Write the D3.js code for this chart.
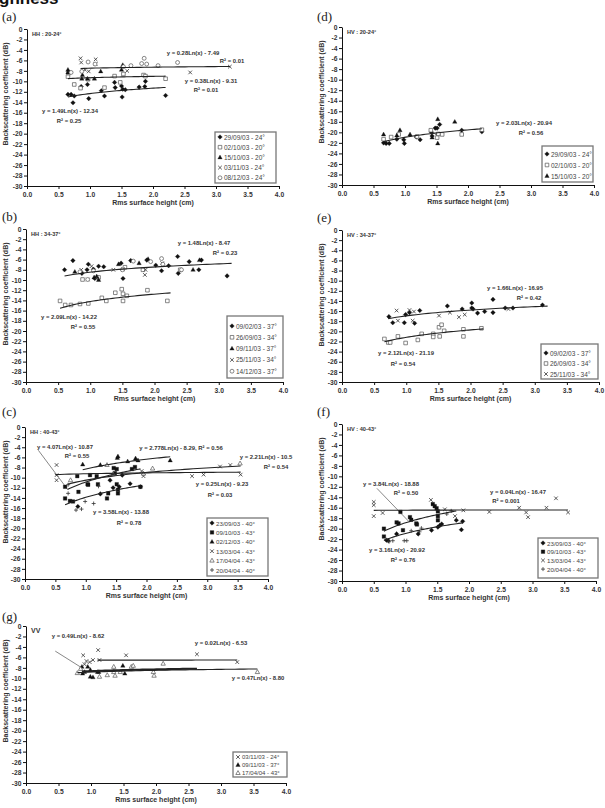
<!DOCTYPE html>
<html><head><meta charset="utf-8">
<script src="https://cdn.jsdelivr.net/npm/d3@7"></script>
<style>body{margin:0;background:#fff} svg{display:block}</style>
</head><body>
<svg id="chart" width="605" height="808"></svg>
<script>
// ---------------- DATA ----------------
const xTicks = [0.0,0.5,1.0,1.5,2.0,2.5,3.0,3.5,4.0];
const yTicks = [0,-2,-4,-6,-8,-10,-12,-14,-16,-18,-20,-22,-24,-26,-28,-30];

// (a) HH 20-24
const a_290903 = [[0.65,-12.5],[0.70,-12.5],[0.73,-14.1],[0.75,-12.8],[0.86,-11.0],[0.96,-10.6],[0.98,-13.3],[1.18,-11.8],[1.23,-12.8],[1.39,-10.2],[1.40,-11.2],[1.50,-10.9],[1.51,-13.0],[1.52,-11.5],[1.56,-11.6],[1.78,-11.1],[1.87,-11.0],[1.88,-10.0],[2.20,-12.7]];
const a_021003 = [[0.65,-9.1],[0.66,-8.4],[0.75,-10.6],[0.85,-11.3],[0.97,-9.6],[1.23,-11.2],[1.39,-9.0],[1.48,-10.2],[1.53,-8.6],[1.85,-8.8],[1.88,-9.0],[2.20,-9.5]];
const a_151003 = [[0.65,-7.8],[0.65,-8.3],[0.87,-9.5],[0.88,-8.8],[0.96,-9.5],[1.07,-9.5],[1.17,-8.1],[1.50,-7.8],[1.52,-6.9]];
const a_031103 = [[0.85,-5.6],[0.86,-6.4],[0.92,-7.8],[0.98,-8.1],[1.09,-5.8],[1.09,-6.7],[1.59,-8.0],[2.59,-8.3],[3.22,-7.2]];
const a_081203 = [[0.70,-8.3],[0.87,-8.1],[0.97,-6.3],[1.08,-6.7],[1.53,-7.2],[1.65,-7.0],[1.82,-6.6],[1.86,-5.6],[1.90,-6.7],[2.08,-7.0],[2.39,-6.4]];
const a_fits = [[1.49,-12.34,0.65,2.2],[0.38,-9.31,0.65,2.2],[0.28,-7.49,0.85,3.22]];

// (b) HH 34-37
const b_090203 = [[0.60,-8.0],[0.73,-6.2],[0.87,-8.7],[0.95,-8.0],[0.97,-6.9],[1.05,-7.9],[1.07,-9.7],[1.13,-7.3],[1.21,-7.4],[1.48,-6.7],[1.51,-9.7],[1.63,-6.2],[1.88,-6.1],[2.02,-7.1],[2.11,-8.2],[2.22,-7.2],[2.36,-5.4],[2.37,-8.7],[2.54,-6.4],[2.69,-8.0],[2.73,-6.1],[3.13,-9.2]];
const b_260903 = [[0.53,-14.1],[0.61,-14.9],[0.70,-14.9],[0.84,-14.7],[0.88,-9.9],[0.97,-14.6],[1.13,-9.5],[1.18,-13.5],[1.25,-14.1],[1.39,-12.5],[1.49,-11.8],[1.51,-14.1],[1.51,-12.7],[1.54,-7.5],[1.57,-13.1],[1.82,-8.0],[1.89,-12.0],[2.20,-14.1],[2.40,-8.0]];
const b_091103 = [[0.76,-8.4],[1.06,-9.5],[1.10,-9.3],[1.13,-10.0],[1.44,-6.9],[1.76,-6.7],[1.90,-5.9],[2.60,-8.0],[2.70,-6.1]];
const b_251103 = [[0.86,-8.0],[0.96,-9.9],[1.02,-7.3],[1.10,-9.5],[1.36,-8.0],[1.51,-7.9],[1.85,-9.0],[1.86,-8.0],[2.12,-6.7]];
const b_141203 = [[0.84,-8.4],[0.96,-9.9],[1.05,-8.2],[1.50,-8.0],[1.67,-6.3],[1.94,-6.4],[2.11,-5.8],[2.13,-6.9],[2.42,-8.0]];
const b_fits = [[1.48,-8.47,0.6,3.2],[2.09,-14.22,0.53,2.25]];

// (c) HH 40-43
const c_230903 = [[0.87,-15.7],[1.24,-13.2],[1.40,-10.5],[1.45,-12.0],[1.55,-11.8],[1.60,-9.5],[1.73,-11.2],[1.90,-11.8]];
const c_091003 = [[0.66,-11.8],[0.66,-14.1],[0.74,-14.6],[0.79,-14.7],[0.86,-9.7],[0.88,-12.8],[1.03,-11.3],[1.04,-11.4],[1.07,-9.5],[1.18,-9.7],[1.20,-11.3],[1.35,-14.1],[1.37,-13.1],[1.46,-8.1],[1.48,-9.1],[1.51,-8.3],[1.51,-11.3],[1.53,-13.1],[1.53,-12.4],[1.76,-8.3],[1.81,-7.9],[1.90,-11.8]];
const c_021203 = [[0.95,-7.4],[1.24,-7.5],[1.52,-6.1],[1.53,-5.8],[1.69,-6.8],[1.82,-6.2],[1.86,-6.6],[2.39,-6.6]];
const c_130304 = [[0.52,-7.5],[0.52,-9.5],[0.52,-10.5],[1.92,-8.7],[1.95,-9.7],[2.75,-9.7],[2.94,-9.4],[3.21,-7.8],[3.38,-7.5],[3.55,-9.4]];
const c_170404 = [[0.75,-10.5],[1.35,-7.5],[1.45,-9.3],[1.95,-9.2],[2.10,-8.2],[3.54,-7.2]];
const c_200404 = [[0.71,-11.4],[0.71,-13.1],[0.84,-16.4],[0.93,-16.2],[0.99,-14.7],[1.13,-15.1],[1.21,-11.7]];
const c_fits = [[4.07,-10.87,0.7,1.9],[2.778,-8.29,0.95,2.39],[2.21,-10.5,0.7,3.55],[0.25,-9.23,0.5,3.55],[3.58,-13.88,0.66,1.9]];

// (d) HV 20-24
const d_290903 = [[0.66,-22.0],[0.70,-22.1],[0.75,-22.1],[0.87,-21.3],[0.98,-21.4],[0.99,-22.1],[1.18,-20.9],[1.24,-21.4],[1.42,-20.0],[1.43,-20.7],[1.48,-19.2],[1.51,-19.2],[1.52,-20.4],[1.55,-18.5],[1.90,-19.6],[2.22,-19.9]];
const d_021003 = [[0.66,-21.3],[0.78,-20.9],[0.90,-20.4],[1.19,-20.8],[1.41,-19.6],[1.51,-21.0],[1.53,-20.3],[1.59,-20.4],[1.90,-20.4],[2.22,-19.5]];
const d_151003 = [[0.66,-20.4],[0.87,-20.6],[0.92,-19.6],[1.08,-20.4],[1.43,-21.0],[1.52,-17.5],[1.52,-22.1],[1.79,-18.0]];
const d_fits = [[2.03,-20.94,0.66,2.22]];

// (e) HV 34-37
const e_090203 = [[0.73,-17.1],[0.79,-18.3],[0.97,-18.3],[0.99,-16.7],[1.05,-16.3],[1.13,-18.4],[1.21,-15.9],[1.64,-15.0],[1.87,-15.6],[2.02,-14.4],[2.02,-15.4],[2.04,-15.6],[2.11,-16.4],[2.22,-16.1],[2.35,-13.7],[2.35,-16.3],[2.54,-15.4],[2.66,-15.4],[3.12,-14.8]];
const e_260903 = [[0.66,-21.5],[0.72,-22.2],[0.75,-22.2],[0.87,-21.0],[0.99,-22.3],[1.18,-21.7],[1.24,-20.5],[1.42,-20.5],[1.42,-21.1],[1.51,-19.2],[1.52,-21.0],[1.55,-18.7],[1.59,-19.9],[1.89,-21.0],[1.89,-19.6],[2.17,-19.4]];
const e_251103 = [[0.85,-15.9],[0.87,-17.9],[1.05,-15.8],[1.10,-17.9],[1.12,-16.1],[1.51,-16.9],[1.68,-16.3],[1.82,-17.2],[1.91,-16.7],[2.59,-15.6]];
const e_fits = [[1.66,-16.95,0.72,3.2],[2.12,-21.19,0.66,2.2]];

// (f) HV 40-43
const f_230903 = [[0.70,-22.2],[0.73,-22.3],[0.86,-21.0],[1.20,-21.0],[1.41,-20.3],[1.51,-19.7],[1.54,-19.4],[1.57,-19.1],[1.80,-18.4],[1.88,-20.2],[1.90,-18.6]];
const f_091003 = [[0.66,-20.0],[0.66,-21.5],[0.86,-18.8],[0.89,-19.0],[0.92,-16.8],[0.96,-20.3],[1.07,-17.8],[1.09,-18.3],[1.17,-19.0],[1.18,-19.2],[1.43,-15.3],[1.46,-15.7],[1.49,-16.1],[1.51,-16.7],[1.51,-17.6],[1.51,-18.4]];
const f_130304 = [[0.50,-14.9],[0.50,-15.5],[0.50,-17.6],[0.64,-17.0],[1.40,-14.5],[1.62,-16.3],[1.78,-17.6],[1.91,-16.5],[2.32,-16.8],[2.79,-16.0],[2.90,-16.9],[2.93,-17.8],[3.22,-16.0],[3.37,-14.2],[3.56,-16.9]];
const f_200404 = [[0.74,-22.5],[0.80,-22.3],[0.98,-22.3],[1.02,-22.3],[1.09,-20.4],[1.22,-20.6],[1.25,-19.9],[1.65,-17.2],[1.72,-16.6]];
const f_fits = [[3.84,-18.88,0.66,1.8],[0.04,-16.47,0.5,3.56],[3.16,-20.92,0.66,1.9]];

// (g) VV
const g_031103 = [[0.88,-5.6],[0.90,-7.3],[0.93,-6.7],[0.98,-6.9],[1.03,-6.5],[1.11,-4.6],[1.13,-6.5],[1.54,-5.6],[2.63,-5.4],[3.25,-6.9]];
const g_091103 = [[0.86,-7.8],[0.87,-9.1],[0.90,-8.8],[0.95,-7.8],[0.99,-8.4],[0.99,-9.7],[1.03,-9.8],[1.10,-8.8],[1.12,-8.8],[1.49,-7.6],[1.52,-9.1]];
const g_170404 = [[0.79,-9.0],[0.84,-8.2],[1.13,-9.7],[1.25,-9.4],[1.35,-8.8],[1.35,-7.8],[1.37,-9.5],[1.45,-8.8],[1.62,-7.8],[1.65,-7.6],[1.96,-8.8],[1.97,-9.5],[2.11,-7.2],[3.56,-8.8]];
const g_fits = [[0.49,-8.62,0.86,2.63],[0.02,-6.53,1.1,3.25],[0.47,-8.80,0.79,3.56]];

// ---------------- LAYOUT ----------------
const FONT = '"Liberation Sans", Arial, Helvetica, sans-serif';
const SERIF = '"Liberation Serif", "Times New Roman", serif';
const svg = d3.select('#chart');

const panels = [
 {label:'(a)', lx:2, ly:21, tag:'HH : 20-24°', x0:27, x1:279, y0:29, y1:186, ytx:5,
  series:[{n:'29/09/03 - 24°',d:a_290903,s:'diamond'},{n:'02/10/03 - 20°',d:a_021003,s:'squareO'},{n:'15/10/03 - 20°',d:a_151003,s:'triangle'},{n:'03/11/03 - 24°',d:a_031103,s:'x'},{n:'08/12/03 - 24°',d:a_081203,s:'circleO'}],
  fits:a_fits,
  eqs:[['y = 0.28Ln(x) - 7.49',193,55],['R² = 0.01',232,63],['y = 0.38Ln(x) - 9.31',211,83],['R² = 0.01',206,92],['y = 1.49Ln(x) - 12.34',70,113],['R² = 0.25',69,123]],
  leg:{x:215,y:132,w:61,h:51,r0:137,row:10.2,fs:6.5}},
 {label:'(b)', lx:2, ly:221, tag:'HH : 34-37°', x0:26, x1:283, y0:229, y1:382, ytx:5,
  series:[{n:'09/02/03 - 37°',d:b_090203,s:'diamond'},{n:'26/09/03 - 34°',d:b_260903,s:'squareO'},{n:'09/11/03 - 37°',d:b_091103,s:'triangle'},{n:'25/11/03 - 34°',d:b_251103,s:'x'},{n:'14/12/03 - 37°',d:b_141203,s:'circleO'}],
  fits:b_fits,
  eqs:[['y = 1.48Ln(x) - 8.47',204,245],['R² = 0.23',225,255],['y = 2.09Ln(x) - 14.22',69,319],['R² = 0.55',83,329]],
  leg:{x:227,y:316,w:56,h:62,r0:326,row:11.3,fs:6.5}},
 {label:'(c)', lx:2, ly:416, tag:'HH : 40-43°', x0:25, x1:268, y0:427, y1:579, ytx:5,
  series:[{n:'23/09/03 - 40°',d:c_230903,s:'diamond'},{n:'09/10/03 - 43°',d:c_091003,s:'squareF'},{n:'02/12/03 - 40°',d:c_021203,s:'triangle'},{n:'13/03/04 - 43°',d:c_130304,s:'x'},{n:'17/04/04 - 43°',d:c_170404,s:'triangleO'},{n:'20/04/04 - 40°',d:c_200404,s:'plus'}],
  fits:c_fits,
  leaders:[[[0.22,-4.6],[0.7,-12.3]]],
  eqs:[['y = 4.07Ln(x) - 10.87',65,449],['R² = 0.55',77,458],['y = 2.778Ln(x) - 8.29, R² = 0.56',181,450],['y = 2.21Ln(x) - 10.5',266,459],['R² = 0.54',276,469],['y = 0.25Ln(x) - 9.23',222,486],['R² = 0.03',220,497],['y = 3.58Ln(x) - 13.88',121,514],['R² = 0.78',129,525]],
  leg:{x:207,y:518,w:61,h:58,r0:523,row:9.4,fs:6.2}},
 {label:'(g)', lx:2, ly:621, tag:'VV', tagfs:7, x0:26, x1:286, y0:626, y1:783, ytx:5,
  series:[{n:'03/11/03 - 24°',d:g_031103,s:'x'},{n:'09/11/03 - 37°',d:g_091103,s:'triangle'},{n:'17/04/04 - 43°',d:g_170404,s:'triangleO'}],
  fits:g_fits, boldFit:0,
  leaders:[[[0.45,-4.8],[0.86,-8.0]]],
  eqs:[['y = 0.49Ln(x) - 8.62',78,638],['y = 0.02Ln(x) - 6.53',221,645],['y = 0.47Ln(x) - 8.80',258,680]],
  leg:{x:233,y:752,w:54,h:25,r0:757,row:8,fs:6}},
 {label:'(d)', lx:317, ly:21, tag:'HV : 20-24°', x0:342, x1:594, y0:27, y1:185, ytx:321,
  series:[{n:'29/09/03 - 24°',d:d_290903,s:'diamond'},{n:'02/10/03 - 20°',d:d_021003,s:'squareO'},{n:'15/10/03 - 20°',d:d_151003,s:'triangle'}],
  fits:d_fits,
  eqs:[['y = 2.03Ln(x) - 20.94',524,125],['R² = 0.56',531,135]],
  leg:{x:542,y:146,w:51,h:36,r0:154,row:11,fs:6.5}},
 {label:'(e)', lx:317, ly:222, tag:'HV : 34-37°', x0:342, x1:599, y0:230, y1:382, ytx:321,
  series:[{n:'09/02/03 - 37°',d:e_090203,s:'diamond'},{n:'26/09/03 - 34°',d:e_260903,s:'squareO'},{n:'25/11/03 - 34°',d:e_251103,s:'x'}],
  fits:e_fits,
  eqs:[['y = 1.66Ln(x) - 16.95',515,290],['R² = 0.42',529,300],['y = 2.12Ln(x) - 21.19',406,355],['R² = 0.54',403,366]],
  leg:{x:541,y:344,w:57,h:35,r0:353,row:10.5,fs:6.5}},
 {label:'(f)', lx:317, ly:416, tag:'HV : 40-43°', x0:342, x1:596, y0:424, y1:581, ytx:321,
  series:[{n:'23/09/03 - 40°',d:f_230903,s:'diamond'},{n:'09/10/03 - 43°',d:f_091003,s:'squareF'},{n:'13/03/04 - 43°',d:f_130304,s:'x'},{n:'20/04/04 - 40°',d:f_200404,s:'plus'}],
  fits:f_fits,
  leaders:[[[0.55,-12.3],[1.05,-18.6]]],
  eqs:[['y = 3.84Ln(x) - 18.88',391,486],['R² = 0.50',406,495],['y = 0.04Ln(x) - 16.47',518,494],['R² = 0.001',506,503],['y = 3.16Ln(x) - 20.92',397,552],['R² = 0.76',403,562]],
  leg:{x:538,y:538,w:60,h:40,r0:543,row:8.7,fs:6.2}}
];

// top heading, partly outside the page as in the reference
svg.append('text').attr('x',-1).attr('y',4).attr('font-family',FONT).attr('font-weight','bold')
  .attr('font-size',17).attr('fill','#111').text('ghness');

function symbolPath(s){
  const r=2.3;
  switch(s){
    case 'diamond': return `M0,${-r}L${r},0L0,${r}L${-r},0Z`;
    case 'squareO': case 'squareF': return `M-1.8,-1.8H1.8V1.8H-1.8Z`;
    case 'triangle': case 'triangleO': return `M0,-2.4L2.2,1.5H-2.2Z`;
    case 'x': return `M-1.8,-1.8L1.8,1.8M1.8,-1.8L-1.8,1.8`;
    case 'plus': return `M-2,0H2M0,-2V2`;
    case 'circleO': return d3.symbol(d3.symbolCircle, 12)();
  }
}
function styleSym(sel, s){
  if (s==='diamond'||s==='squareF'||s==='triangle') sel.attr('fill','#111').attr('stroke','#111').attr('stroke-width',0.3);
  else if (s==='x'||s==='plus') sel.attr('fill','none').attr('stroke','#333').attr('stroke-width',0.8);
  else sel.attr('fill','#fff').attr('stroke','#555').attr('stroke-width',0.7);
}

panels.forEach(p=>{
  const x = d3.scaleLinear().domain([0,4]).range([p.x0,p.x1]);
  const y = d3.scaleLinear().domain([0,-30]).range([p.y0,p.y1]);
  const g = svg.append('g');

  g.append('text').attr('x',p.lx).attr('y',p.ly).attr('font-family',SERIF).attr('font-size',13).attr('fill','#222').text(p.label);

  const ya = g.append('g').attr('transform',`translate(${p.x0},0)`)
    .call(d3.axisLeft(y).tickValues(yTicks).tickFormat(d=>String(d)).tickSize(3).tickSizeOuter(0));
  const xa = g.append('g').attr('transform',`translate(0,${p.y1})`)
    .call(d3.axisBottom(x).tickValues(xTicks).tickFormat(d3.format('.1f')).tickSize(3).tickSizeOuter(0));
  [ya,xa].forEach(a=>{
    a.selectAll('path,line').attr('stroke','#111').attr('stroke-width',1);
    a.selectAll('text').attr('font-family',FONT).attr('font-size',6.7).attr('font-weight','bold').attr('fill','#333');
  });
  ya.selectAll('text').attr('x',-4.5);
  xa.selectAll('text').attr('y',6);

  g.append('text').attr('transform',`translate(${p.ytx},${p.y0+65}) rotate(-90)`).attr('text-anchor','middle')
    .attr('dominant-baseline','central').attr('font-family',FONT).attr('font-size',7).attr('font-weight','bold').attr('fill','#333')
    .text('Backscattering coefficient (dB)');
  g.append('text').attr('x',(p.x0+p.x1)/2).attr('y',p.y1+19).attr('text-anchor','middle')
    .attr('font-family',FONT).attr('font-size',7).attr('font-weight','bold').attr('fill','#333').text('Rms surface height (cm)');

  g.append('text').attr('x',p.x0+5).attr('y',p.y0+6.5).attr('font-family',FONT).attr('font-size',p.tagfs||5.6)
    .attr('font-weight','bold').attr('fill','#333').text(p.tag);

  (p.leaders||[]).forEach(l=>{
    g.append('line').attr('x1',x(l[0][0])).attr('y1',y(l[0][1])).attr('x2',x(l[1][0])).attr('y2',y(l[1][1]))
      .attr('stroke','#555').attr('stroke-width',0.7);
  });

  p.series.forEach(se=>{
    g.append('g').selectAll('path').data(se.d).join('path')
      .attr('transform',d=>`translate(${x(d[0])},${y(d[1])})`)
      .attr('d',symbolPath(se.s)).call(styleSym, se.s);
  });

  // regression lines from the printed equations
  const line = d3.line().x(d=>x(d[0])).y(d=>y(d[1]));
  p.fits.forEach((f,i)=>{
    const xs = d3.range(f[2], f[3], (f[3]-f[2])/40).concat([f[3]]);
    g.append('path').attr('d', line(xs.map(v=>[v, f[0]*Math.log(v)+f[1]])))
      .attr('fill','none').attr('stroke','#222').attr('stroke-width', p.boldFit===i?2:1.1);
  });

  p.eqs.forEach(e=>{
    g.append('text').attr('x',e[1]).attr('y',e[2]).attr('text-anchor','middle')
      .attr('font-family',FONT).attr('font-size',5.9).attr('font-weight','bold').attr('fill','#333').text(e[0]);
  });

  const L = p.leg;
  g.append('rect').attr('x',L.x).attr('y',L.y).attr('width',L.w).attr('height',L.h)
    .attr('fill','#fff').attr('stroke','#777').attr('stroke-width',1.3);
  p.series.forEach((se,i)=>{
    const cy = L.r0 + i*L.row;
    g.append('path').attr('transform',`translate(${L.x+5},${cy})`).attr('d',symbolPath(se.s)).call(styleSym, se.s);
    g.append('text').attr('x',L.x+9).attr('y',cy).attr('dominant-baseline','central')
      .attr('font-family',FONT).attr('font-size',L.fs).attr('fill','#444').text(se.n);
  });
});
</script>
</body></html>
